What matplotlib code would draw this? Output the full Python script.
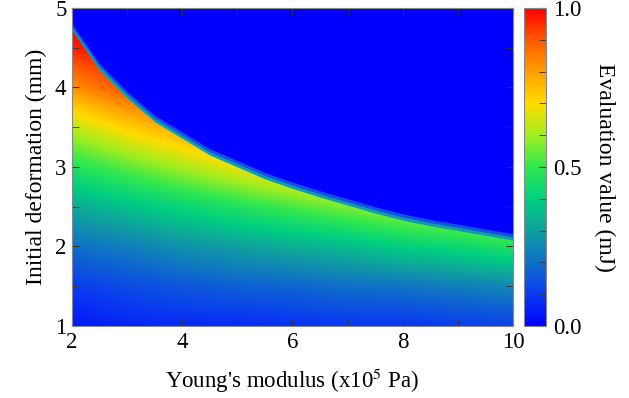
import matplotlib.pyplot as plt
import numpy as np
from matplotlib.colors import LinearSegmentedColormap
from matplotlib.ticker import MultipleLocator

plt.rcParams['font.family'] = ['Liberation Serif', 'DejaVu Serif']
plt.rcParams['mathtext.fontset'] = 'stix'

# values
modulus = [2, 3, 4, 5, 6, 7, 8, 9, 10]                       # x10^5 Pa
deform = [1.0, 1.5, 2.0, 2.5, 3.0, 3.5, 4.0, 4.5, 5.0]       # mm
# evaluation value (mJ), rows = deform, cols = modulus
evaluation = [
    [0.04, 0.06, 0.07, 0.07, 0.08, 0.09, 0.09, 0.10, 0.11],
    [0.10, 0.13, 0.15, 0.17, 0.18, 0.20, 0.21, 0.23, 0.25],
    [0.20, 0.23, 0.27, 0.30, 0.33, 0.36, 0.40, 0.43, 0.47],
    [0.32, 0.37, 0.42, 0.47, 0.52, 0.57, 0.62, 0.66, 0.70],
    [0.47, 0.54, 0.61, 0.68, 0.74, 0.80, 0.86, 0.91, 0.96],
    [0.63, 0.72, 0.80, 0.90, 0.98, 1.00, 1.00, 1.00, 1.00],
    [0.82, 0.92, 1.00, 1.00, 1.00, 1.00, 1.00, 1.00, 1.00],
    [0.97, 1.00, 1.00, 1.00, 1.00, 1.00, 1.00, 1.00, 1.00],
    [1.00, 1.00, 1.00, 1.00, 1.00, 1.00, 1.00, 1.00, 1.00],
]
# deformation above which the value drops to zero
edge_x = [2.0, 2.5, 3.0, 3.5, 4.0, 4.5, 5.0, 5.5, 6.0, 6.5, 7.0, 7.5, 8.0,
          8.5, 9.0, 9.5, 10.0]
edge_y = [4.72, 4.22, 3.87, 3.57, 3.36, 3.15, 3.00, 2.85, 2.73, 2.62, 2.52,
          2.42, 2.33, 2.26, 2.20, 2.14, 2.08]

colors = ['#0000ff', '#0a3cf0', '#1070c8', '#10a0a0', '#00d080', '#30e850',
          '#a0ee20', '#ffdc00', '#ffa000', '#ff5a00', '#ff0000']
cmap = LinearSegmentedColormap.from_list('eval', colors)

fig = plt.figure(figsize=(6.29, 3.98), dpi=100)
ax = fig.add_axes([0.1145, 0.181, 0.701, 0.799])
cax = fig.add_axes([0.833, 0.181, 0.035, 0.799])

im = ax.imshow(np.array(evaluation), origin='lower', cmap=cmap, vmin=0, vmax=1,
               extent=[1.5, 10.5, 0.75, 5.25], aspect='auto',
               interpolation='bilinear')
# steep drop just above the edge, then zero
edge_y = np.array(edge_y)
ax.fill_between(edge_x, edge_y, 5.5, color=cmap(0.3), lw=0)
ax.fill_between(edge_x, edge_y + 0.04, 5.5, color=cmap(0.15), lw=0)
ax.fill_between(edge_x, edge_y + 0.08, 5.5, color=cmap(0.0), lw=0)
ax.set_xlim(2, 10)
ax.set_ylim(1, 5)

ax.xaxis.set_major_locator(MultipleLocator(2))
ax.xaxis.set_minor_locator(MultipleLocator(1))
ax.yaxis.set_major_locator(MultipleLocator(1))
ax.yaxis.set_minor_locator(MultipleLocator(0.5))
ax.tick_params(which='both', direction='in', top=True, right=True,
               labelsize=16.5, color='#333333', length=5)
ax.tick_params(which='major', pad=4)
for s in ax.spines.values():
    s.set_color('#888888')

ax.set_xlabel("Young's modulus (x10$^5$ Pa)", fontsize=16.5, labelpad=10)
ax.set_ylabel('Initial deformation (mm)', fontsize=17, labelpad=6)

cb = fig.colorbar(im, cax=cax)
cb.set_ticks([0, 0.5, 1.0])
cb.set_ticklabels(['0.0', '0.5', '1.0'])
cax.yaxis.set_minor_locator(MultipleLocator(0.1))
cax.tick_params(which='both', direction='in', length=5, labelsize=16.5,
                color='#333333', pad=5)
cb.outline.set_edgecolor('#888888')
cb.set_label('Evaluation value (mJ)', fontsize=17, rotation=270, labelpad=24)

plt.savefig('out.png', dpi=100)
